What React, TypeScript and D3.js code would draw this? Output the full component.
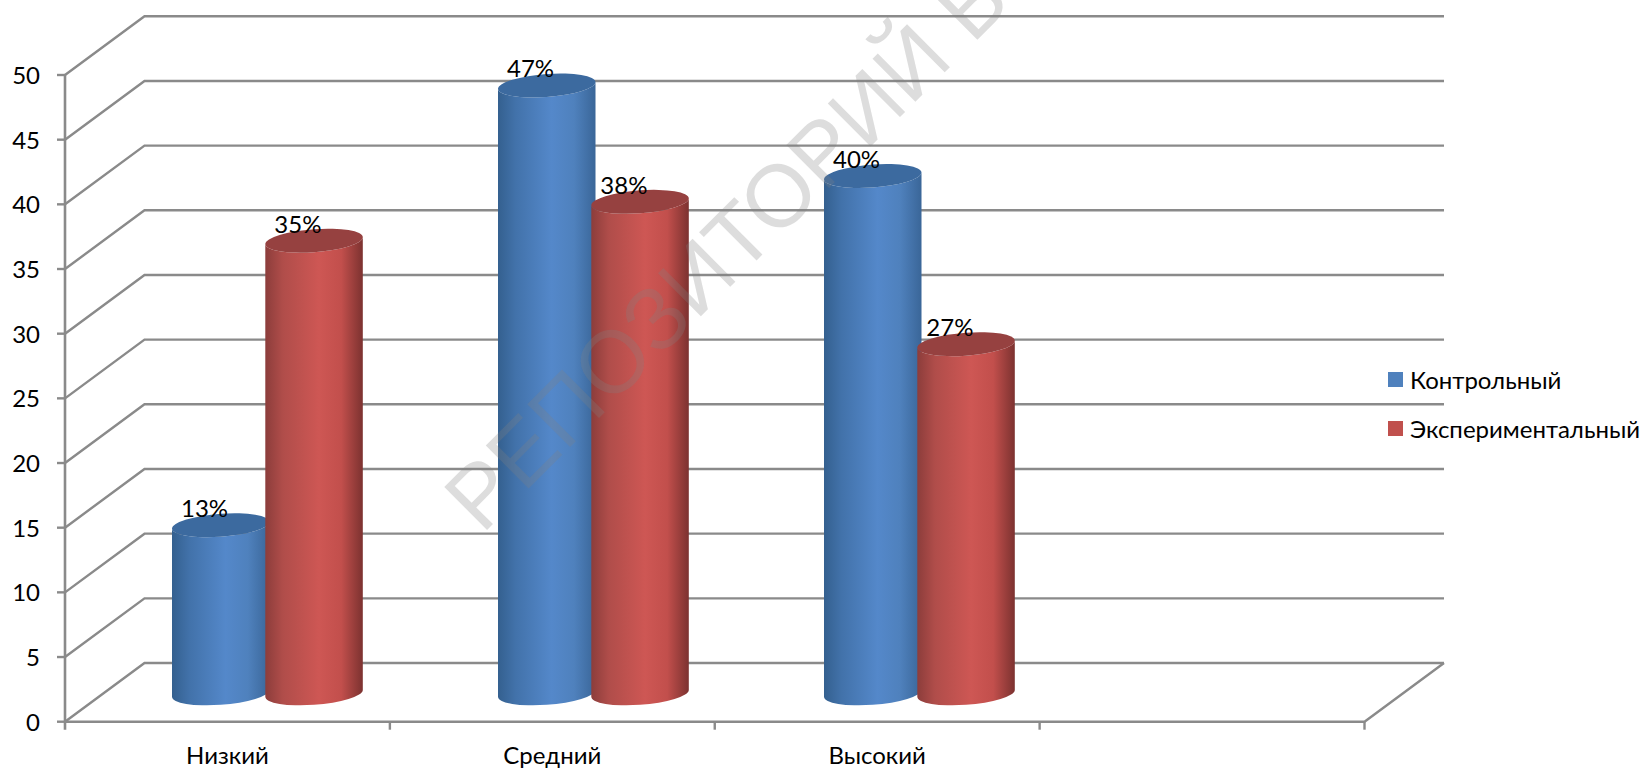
import React from "react";
import * as d3 from "d3";

const categories = ["Низкий", "Средний", "Высокий"];
const controlValues = [13, 47, 40];
const experimentalValues = [35, 38, 27];
const seriesNames = ["Контрольный", "Экспериментальный"];
const yTicks = [0, 5, 10, 15, 20, 25, 30, 35, 40, 45, 50];
const FONT = "Lato, 'Noto Sans', sans-serif";

const seriesList = [
  { key: "b", name: seriesNames[0], values: controlValues, legend: "#4f81bd", top: "#3c6a9f",
    stops: ["#34608f", "#4272aa", "#5488ca", "#4f81bd", "#3a6698"] },
  { key: "r", name: seriesNames[1], values: experimentalValues, legend: "#c0504d", top: "#964140",
    stops: ["#8c3d3b", "#b04d4a", "#ce5754", "#c24f4c", "#7c3230"] },
];

export default function App() {
  const y = d3.scaleLinear().domain([0, 50]).range([721.7, 75]);
  const depthX = 79.5;
  const depthY = -58.7;
  const x = d3.scaleLinear().domain([0, 4]).range([65, 1364.5]);
  const groupX = d3.scaleLinear().domain([0, 2]).range([172, 824]);
  const barW = 97.5;
  const barStep = 93.3;
  const ry = 11.5;
  const skew = -0.07;
  const line = d3.line();
  const gray = "#8a8a8a";

  const gridPaths = yTicks.map((t) =>
    line([
      [x(0), y(t)],
      [x(0) + depthX, y(t) + depthY],
      [x(4) + depthX, y(t) + depthY],
    ])
  );

  return (
    <svg
      width={1648}
      height={768}
      viewBox="0 0 1648 768"
      style={{ position: "fixed", left: 0, top: 0, display: "block", background: "#fff" }}
    >
      <defs>
        {seriesList.map((s) => (
          <linearGradient key={s.key} id={`grad-${s.key}`} x1="0" x2="1" y1="0" y2="0">
            {s.stops.map((c, i) => (
              <stop key={i} offset={[0, 0.18, 0.55, 0.78, 1][i]} stopColor={c} />
            ))}
          </linearGradient>
        ))}
      </defs>

      {gridPaths.map((d, i) => (
        <path key={i} d={d ?? ""} fill="none" stroke={gray} strokeWidth={2.4} />
      ))}
      <path d={line([[x(0), y(50)], [x(0), y(0) + 8]]) ?? ""} fill="none" stroke={gray} strokeWidth={2.6} />
      <path
        d={line([[x(0), y(0)], [x(4), y(0)], [x(4) + depthX, y(0) + depthY]]) ?? ""}
        fill="none"
        stroke={gray}
        strokeWidth={2.4}
      />
      {yTicks.map((t) => (
        <g key={t}>
          <line x1={x(0) - 8} x2={x(0)} y1={y(t)} y2={y(t)} stroke={gray} strokeWidth={2.4} />
          <text x={40} y={y(t) + 9} textAnchor="end" fontFamily={FONT} fontSize={24} fill="#000">
            {t}
          </text>
        </g>
      ))}
      {d3.range(1, 5).map((i) => (
        <line key={i} x1={x(i)} x2={x(i)} y1={y(0)} y2={y(0) + 8} stroke={gray} strokeWidth={2.4} />
      ))}
      {categories.map((c, i) => (
        <text key={c} x={x(i + 0.5)} y={764} textAnchor="middle" fontFamily={FONT} fontSize={24} fill="#000">
          {c}
        </text>
      ))}

      {categories.map((c, i) =>
        seriesList.map((s, j) => {
          const left = groupX(i) + j * barStep;
          const cx = left + barW / 2;
          const rx = barW / 2;
          const base = y(0) + depthY / 2 + 1;
          const top = y(s.values[i]) + depthY / 2 + 1;
          const body = `M${left},${top}L${left},${base}A${rx},${ry} 0 0 0 ${left + barW},${base}L${left + barW},${top}A${rx},${ry} 0 0 1 ${left},${top}Z`;
          return (
            <g key={c + s.key} transform={`matrix(1,${skew},0,1,0,${-skew * cx})`}>
              <path d={body} fill={`url(#grad-${s.key})`} />
              <ellipse cx={cx} cy={top} rx={rx} ry={ry} fill={s.top} />
            </g>
          );
        })
      )}
      {categories.map((c, i) =>
        seriesList.map((s, j) => (
          <text
            key={c + s.key + "l"}
            x={groupX(i) + j * barStep + 9}
            y={y(s.values[i]) + depthY / 2 - 7}
            fontFamily={FONT}
            fontSize={24}
            fill="#000"
          >
            {s.values[i]}%
          </text>
        ))
      )}

      {seriesList.map((s, j) => (
        <g key={s.key}>
          <rect x={1388} y={372 + j * 49} width={15} height={15} fill={s.legend} />
          <text x={1410} y={389 + j * 49} fontFamily={FONT} fontSize={24} fill="#000">
            {s.name}
          </text>
        </g>
      ))}

      <text
        transform="translate(482,535) rotate(-45)"
        fontFamily="'Liberation Sans', sans-serif"
        fontSize={88}
        fill="#808080"
        fillOpacity={0.27}
      >
        РЕПОЗИТОРИЙ Б
      </text>
    </svg>
  );
}
